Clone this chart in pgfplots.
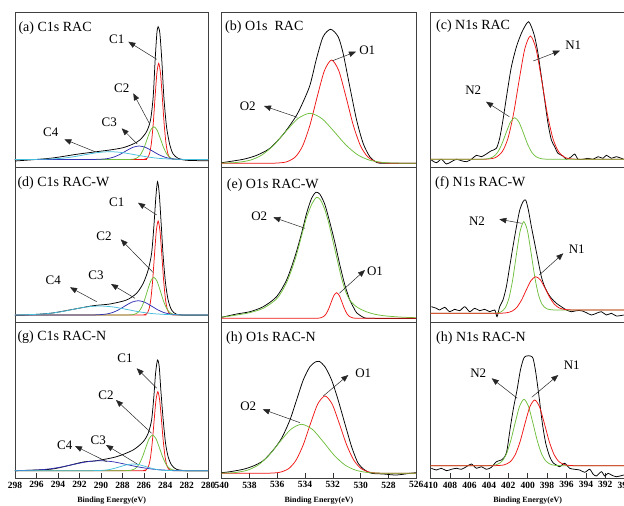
\documentclass[border=0pt]{standalone}
\usepackage{fontspec}
\setmainfont{Liberation Serif}
\usepackage{pgfplots}
\pgfplotsset{compat=1.18}
\usetikzlibrary{arrows.meta}
\definecolor{cred}{RGB}{240,20,20}
\definecolor{cgreen}{RGB}{110,190,60}
\definecolor{cblue}{RGB}{50,50,180}
\definecolor{ccyan}{RGB}{70,190,220}
\pgfplotsset{
  panel/.style={scale only axis, height=155.3pt, ymin=0, ymax=155.3, x dir=reverse,
    enlargelimits=false, xtick=\empty, ytick=\empty,
    axis line style={draw=black!75, line width=0.8pt}, anchor=south west,
    every axis plot/.append style={line width=0.75pt, mark=none, smooth, tension=0.45}},
  c1/.style={panel, width=193.3pt, xmin=280, xmax=298},
  c2/.style={panel, width=194.5pt, xmin=526, xmax=540},
  c3/.style={panel, width=194pt, xmin=390, xmax=410},
  bottomrow/.style={xtick pos=bottom, major tick length=5pt,
    tick style={black!80, line width=0.6pt},
    /pgf/number format/assume math mode=true,
    xticklabel style={font=\bfseries\fontsize{9.5}{11}\selectfont, inner sep=1pt, yshift=-2.5pt},
    xlabel={Binding Energy(eV)},
    xlabel style={font=\bfseries\fontsize{8}{10}\selectfont, at={(axis description cs:0.5,0)}, anchor=center, yshift=-23pt}},
}
\begin{document}
\begin{tikzpicture}
% ---------------- (a) C1s RAC ----------------
\begin{axis}[c1, at={(15pt,338.7pt)}]
\addplot[black] coordinates {(298,6.3) (294.74,9.0) (292.26,13) (290.4,15.6) (289.16,17.3) (287.93,19.6) (287.0,23.3) (286.37,27.3) (285.75,35.6) (285.38,47.3) (285.13,70.6) (284.95,107.3) (284.79,134) (284.67,140.6) (284.51,134) (284.33,107.3) (284.14,70.6) (283.89,40.6) (283.58,22.3) (283.27,13.3) (282.81,9) (282.03,7.0) (280,6.5)};
\addplot[cred] coordinates {(298,7.8) (286.49,7.8) (285.98,7.9) (285.68,9.1) (285.47,13.8) (285.30,24.1) (285.13,43.3) (284.96,69.6) (284.79,93.9) (284.62,104) (284.45,93.9) (284.28,69.6) (284.11,43.3) (283.94,24.1) (283.77,13.8) (283.56,9.1) (283.26,7.9) (282.75,7.8) (280,7.8)};
\addplot[cgreen] coordinates {(298,7.8) (288.37,7.8) (287.47,7.83) (286.945,8.2) (286.57,9.85) (286.27,13.3) (285.97,19.9) (285.67,28.9) (285.37,37.2) (285.07,40.6) (284.77,37.2) (284.47,28.9) (284.17,19.9) (283.87,13.3) (283.57,9.85) (283.195,8.2) (282.67,7.83) (281.77,7.8) (280,7.8)};
\addplot[cblue] coordinates {(298,7.8) (293.04,7.8) (291.24,7.8) (290.19,8.0) (289.44,8.6) (288.84,10.1) (288.24,12.8) (287.64,16.5) (287.04,19.9) (286.44,21.3) (285.84,19.9) (285.24,16.5) (284.64,12.8) (284.04,10.1) (283.44,8.6) (282.69,8.0) (281.64,7.8) (280,7.8)};
\addplot[ccyan] coordinates {(298,7.8) (296.04,7.9) (294.66,8.3) (293.56,9.1) (292.46,10.7) (291.36,12.8) (290.26,14.8) (289.16,15.6) (288.06,14.8) (286.96,12.8) (285.86,10.7) (284.76,9.1) (283.66,8.3) (282.29,7.9) (280,7.8)};
\end{axis}
% ---------------- (b) O1s RAC ----------------
\begin{axis}[c2, at={(221.7pt,338.7pt)}]
\addplot[black] coordinates {(540,4.6) (538.45,8) (537.48,12) (536.53,19) (535.57,33) (534.7,50) (534.25,62) (533.65,82) (533.17,109) (532.70,130.6) (532.16,138) (531.62,130.6) (531.26,114) (530.78,80.6) (530.29,47.3) (529.82,24) (529.34,10.6) (528.86,5) (528.38,4) (526,4)};
\addplot[cred] coordinates {(540,4) (537.81,4) (536.25,4.1) (535.34,5.4) (534.69,10.5) (534.17,21.5) (533.65,42.1) (533.13,70.3) (532.61,96.5) (532.09,107.3) (531.57,96.5) (531.05,70.3) (530.53,42.1) (530.01,21.5) (529.49,10.5) (528.84,5.4) (527.93,4.1) (526.37,4) (526,4)};
\addplot[cgreen] coordinates {(540.53,4.04) (539.03,4.7) (537.95,7.1) (537.09,12.45) (536.23,22.45) (535.37,36.1) (534.51,48.75) (533.65,54) (532.79,48.75) (531.93,36.1) (531.07,22.45) (530.21,12.45) (529.35,7.1) (528.28,4.7) (526.77,4.04) (526,4)};
\end{axis}
% ---------------- (c) N1s RAC ----------------
\begin{axis}[c3, at={(430.7pt,338.7pt)}]
\addplot[black] coordinates {(409.93,7.3) (409.41,4.6) (408.90,8) (408.38,3.3) (407.87,5.6) (407.35,8) (406.84,6.6) (406.32,5.6) (405.80,8) (405.29,12) (404.77,10.6) (404.26,13.3) (403.74,16.6) (403.23,19) (402.89,29) (402.55,47.3) (402.13,74) (401.68,100.6) (401.16,120.6) (400.65,134) (400.21,142.3) (399.90,145.6) (399.62,140.6) (399.28,130.6) (398.94,114) (398.59,90.6) (398.25,67.3) (397.91,44) (397.56,27.3) (397.22,20.6) (396.88,14) (396.36,11.3) (396.01,8) (395.49,10.6) (395.15,13.3) (394.81,8) (394.30,8) (393.78,9) (393.27,8) (392.75,10.6) (392.24,9) (391.89,12) (391.37,9) (390.86,10.6) (390.10,8)};
\addplot[cred] coordinates {(410,8) (406.10,8) (404.36,8.1) (403.35,9.6) (402.62,15.7) (402.04,28.8) (401.46,53.5) (400.88,87.2) (400.30,118.4) (399.72,131.3) (399.14,118.4) (398.56,87.2) (397.98,53.5) (397.40,28.8) (396.82,15.7) (396.10,9.6) (395.08,8.1) (393.34,8) (390,8)};
\addplot[cgreen] coordinates {(410,8) (406.18,8) (404.86,8.03) (404.09,8.55) (403.54,10.6) (403.10,15.0) (402.66,23.35) (402.22,34.7) (401.78,45.2) (401.34,49.6) (400.90,45.2) (400.46,34.7) (400.02,23.35) (399.58,15.0) (399.14,10.6) (398.59,8.55) (397.82,8.03) (396.50,8) (390,8)};
\end{axis}
% ---------------- (d) C1s RAC-W ----------------
\begin{axis}[c1, at={(15pt,183.3pt)}]
\addplot[black] coordinates {(298,7) (294.74,9.4) (292.58,13.4) (290.72,17) (289.16,18.7) (287.61,22.7) (286.68,29.4) (286.06,39.4) (285.60,52.7) (285.28,69.4) (285.07,96) (284.88,126) (284.73,141) (284.57,129.4) (284.39,99.4) (284.20,66) (283.98,39.4) (283.74,22.7) (283.42,12.7) (282.96,8.4) (282.03,7.4) (280,7.4)};
\addplot[cred] coordinates {(298,7.7) (286.54,7.7) (286.03,7.8) (285.73,8.9) (285.52,13.6) (285.35,23.6) (285.18,42.4) (285.01,68.0) (284.84,91.8) (284.67,101.7) (284.50,91.8) (284.33,68.0) (284.16,42.4) (283.99,23.6) (283.82,13.6) (283.61,8.9) (283.31,7.8) (282.80,7.7) (280,7.7)};
\addplot[cgreen] coordinates {(298,7.7) (288.37,7.7) (287.47,7.73) (286.945,8.2) (286.57,10.1) (286.27,14.1) (285.97,21.6) (285.67,31.9) (285.37,41.4) (285.07,45.4) (284.77,41.4) (284.47,31.9) (284.17,21.6) (283.87,14.1) (283.57,10.1) (283.195,8.2) (282.67,7.73) (281.77,7.7) (280,7.7)};
\addplot[cblue] coordinates {(298,7.7) (293.13,7.7) (291.33,7.7) (290.28,7.9) (289.53,8.6) (288.93,10.1) (288.33,13.0) (287.73,16.9) (287.13,20.5) (286.53,22.0) (285.93,20.5) (285.33,16.9) (284.73,13.0) (284.13,10.1) (283.53,8.6) (282.78,7.9) (281.73,7.7) (280,7.7)};
\addplot[ccyan] coordinates {(298,7.75) (297.6,7.8) (296.1,8.3) (294.9,9.2) (293.7,11.0) (292.5,13.5) (291.3,15.8) (290.1,16.7) (288.9,15.8) (287.7,13.5) (286.5,11.0) (285.3,9.2) (284.1,8.3) (282.6,7.8) (280,7.7)};
\end{axis}
% ---------------- (e) O1s RAC-W ----------------
\begin{axis}[c2, at={(221.7pt,183.3pt)}]
\addplot[black] coordinates {(540,5.4) (538.92,8.7) (537.97,11) (537.01,16) (536.05,26) (535.33,42.7) (534.73,66) (534.25,89.4) (533.89,109.4) (533.53,124.4) (533.22,130.4) (532.93,128.4) (532.57,118) (532.21,100) (531.85,80) (531.5,58) (531.14,38) (530.78,22.7) (530.5,15) (530.29,10) (529.82,5.5) (529.34,4.4) (526,4.1)};
\addplot[cgreen] coordinates {(540,5.5) (539,7.5) (538,10) (537,14.5) (536,24.5) (535.3,41) (534.7,64) (534.25,87) (533.9,105) (533.5,119) (533.17,125.4) (532.9,123) (532.6,114) (532.3,100) (532.0,82) (531.7,64) (531.4,46) (531.1,32) (530.8,23) (530.4,17) (530.0,13.5) (529.5,10.5) (529.0,8.5) (528.5,7.3) (528,6.5) (527,5.5) (526,5)};
\addplot[cred] coordinates {(540,4.4) (533.82,4.4) (533.25,4.42) (532.92,4.7) (532.68,6.0) (532.49,8.7) (532.30,13.85) (532.11,20.8) (531.92,27.3) (531.73,30.0) (531.54,27.3) (531.35,20.8) (531.16,13.85) (530.97,8.7) (530.78,6.0) (530.54,4.7) (530.21,4.42) (529.64,4.4) (526,4.4)};
\end{axis}
% ---------------- (f) N1s RAC-W ----------------
\begin{axis}[c3, at={(430.7pt,183.3pt)}]
\addplot[black] coordinates {(409.93,16) (409.41,14.4) (409.07,12.7) (408.56,15.4) (408.04,11) (407.53,13.4) (407.01,12) (406.49,16) (405.98,11) (405.46,14.4) (404.95,12) (404.43,13.4) (403.92,11) (403.40,12.7) (403.16,6) (402.89,16) (402.55,22.7) (402.20,36) (401.86,56) (401.52,76) (401.16,96) (400.82,112.7) (400.48,121) (400.21,122.7) (399.93,112.7) (399.62,96) (399.28,79.4) (398.94,62.7) (398.59,46) (398.25,36) (397.91,29.4) (397.56,24.4) (397.04,19.4) (396.53,16) (396.01,12.7) (395.49,11) (394.98,12) (394.46,12) (393.95,10) (393.43,7.7) (392.92,9.4) (392.40,11) (391.89,7.7) (391.37,9.4) (390.86,6.7) (390.10,7.7)};
\addplot[cgreen] coordinates {(410,9.4) (404.59,9.4) (403.45,9.5) (402.785,10.6) (402.31,15.0) (401.93,24.6) (401.55,42.8) (401.17,67.8) (400.79,91.1) (400.41,101) (400.03,92.1) (399.65,69.8) (399.27,45.7) (398.89,27.9) (398.51,18.3) (398.035,13.9) (397.37,12.8) (396.23,12.7) (390,12.7)};
\addplot[cred] coordinates {(410,9.4) (404.46,9.4) (403.02,9.43) (402.18,9.9) (401.58,11.7) (401.10,15.6) (400.62,22.9) (400.14,32.9) (399.66,42.1) (399.18,46) (398.70,42.9) (398.22,34.7) (397.74,25.5) (397.26,18.6) (396.78,14.9) (396.18,13.2) (395.34,12.73) (393.9,12.7) (390,12.7)};
\end{axis}
% ---------------- (g) C1s RAC-N ----------------
\begin{axis}[c1, bottomrow, xtick={280,282,...,298}, at={(15pt,28pt)}]
\addplot[black] coordinates {(298,7.3) (294.74,8.7) (293.19,12) (291.64,16) (290.40,17.3) (288.54,21.3) (287.0,28) (286.06,36.3) (285.60,44.7) (285.28,58) (285.07,81.3) (284.91,104.7) (284.73,118) (284.57,111.3) (284.42,88) (284.20,58) (283.98,34.7) (283.74,21.3) (283.42,13) (282.96,8.7) (282.03,7.3) (280,7.3)};
\addplot[cred] coordinates {(298,7.3) (286.57,7.3) (286.06,7.4) (285.76,8.3) (285.55,12.2) (285.38,20.7) (285.21,36.5) (285.04,58.0) (284.87,78.0) (284.70,86.3) (284.53,78.0) (284.36,58.0) (284.19,36.5) (284.02,20.7) (283.85,12.2) (283.64,8.3) (283.34,7.4) (282.83,7.3) (280,7.3)};
\addplot[cgreen] coordinates {(298,7.3) (288.71,7.3) (287.75,7.33) (287.19,7.8) (286.79,9.5) (286.47,13.3) (286.15,20.5) (285.83,30.2) (285.51,39.3) (285.19,43.0) (284.87,39.3) (284.55,30.2) (284.23,20.5) (283.91,13.3) (283.59,9.5) (283.19,7.8) (282.63,7.33) (281.67,7.3) (280,7.3)};
\addplot[cblue] coordinates {(298,7.35) (297.59,7.4) (296.09,7.9) (294.89,9.0) (293.69,11.0) (292.49,13.7) (291.29,16.25) (290.09,17.3) (288.89,16.25) (287.69,13.7) (286.49,11.0) (285.29,9.0) (284.09,7.9) (282.59,7.4) (280,7.3)};
\addplot[ccyan] coordinates {(298,7.3) (293.16,7.3) (291.48,7.3) (290.5,7.4) (289.8,7.7) (289.24,8.4) (288.68,9.8) (288.12,11.6) (287.56,13.3) (287.0,14.0) (286.44,13.3) (285.88,11.6) (285.32,9.8) (284.76,8.4) (284.2,7.7) (283.5,7.4) (282.52,7.3) (280,7.3)};
\end{axis}
% ---------------- (h) O1s RAC-N ----------------
\begin{axis}[c2, bottomrow, xtick={526,528,...,540}, at={(221.7pt,28pt)}]
\addplot[black] coordinates {(540,5.3) (539.40,6.3) (538.45,8.7) (537.73,12) (537.01,17.3) (536.29,28) (535.69,39.7) (535.09,58) (534.61,78) (534.13,98) (533.65,111.3) (533.22,116.3) (532.98,116.7) (532.57,111.3) (532.09,98) (531.62,78) (531.14,54.7) (530.65,31.3) (530.18,14.7) (529.70,8) (529.22,4.7) (528.38,4) (527.42,3) (526.46,4.7) (526,5.3)};
\addplot[cred] coordinates {(540,4.7) (538.29,4.7) (536.73,4.76) (535.82,5.7) (535.17,9.5) (534.65,17.8) (534.13,33.2) (533.61,54.3) (533.09,73.9) (532.57,82.0) (532.05,73.9) (531.53,54.3) (531.01,33.2) (530.49,17.8) (529.97,9.5) (529.32,5.7) (528.41,4.76) (526.85,4.7) (526,4.7)};
\addplot[cgreen] coordinates {(540.49,4.74) (539.125,5.3) (538.15,7.8) (537.37,13.0) (536.59,22.8) (535.81,36.2) (535.03,48.6) (534.25,53.7) (533.47,48.6) (532.69,36.2) (531.91,22.8) (531.13,13.0) (530.35,7.8) (529.375,5.3) (528.01,4.74) (526,4.7)};
\end{axis}
% ---------------- (h) N1s RAC-N ----------------
\begin{axis}[c3, bottomrow, xtick={390,392,...,410}, at={(430.7pt,28pt)}]
\addplot[black] coordinates {(409.93,9.7) (409.41,8) (408.90,9.7) (408.38,7.3) (407.87,8.7) (407.35,9.7) (406.84,8.7) (406.32,11.3) (405.80,14) (405.29,9.7) (404.77,11.3) (404.26,8.7) (403.74,10.7) (403.23,16.3) (402.71,18) (402.37,21.3) (402.13,28) (401.78,51.3) (401.44,71.3) (401.10,88) (400.75,108) (400.41,119.7) (400.13,122) (399.72,122) (399.45,119.7) (399.18,106.3) (398.83,81.3) (398.49,54.7) (398.14,34.7) (397.73,21.3) (397.39,15.3) (397.04,13) (396.70,11.3) (396.19,14.7) (395.67,9.7) (395.15,8.7) (394.64,8) (394.12,5.7) (393.61,8.7) (393.27,4) (392.92,2) (392.40,6.3) (392.06,2) (391.72,4.7) (391.37,3) (390.86,1.3) (390.10,3)};
\addplot[cgreen] coordinates {(410,12.3) (405.44,12.3) (404.06,12.35) (403.255,13.2) (402.68,16.45) (402.22,23.5) (401.76,36.8) (401.30,54.9) (400.84,71.7) (400.38,78.7) (399.92,71.7) (399.46,54.9) (399.00,36.8) (398.54,23.5) (398.08,16.45) (397.505,13.2) (396.70,12.35) (395.32,12.3) (390,12.3)};
\addplot[cred] coordinates {(410,12.3) (404.78,12.3) (403.28,12.35) (402.405,13.2) (401.78,16.4) (401.28,23.4) (400.78,36.5) (400.28,54.5) (399.78,71.1) (399.28,78.0) (398.78,71.1) (398.28,54.5) (397.78,36.5) (397.28,23.4) (396.78,16.4) (396.155,13.2) (395.28,12.35) (393.78,12.3) (390,12.3)};
\end{axis}
% ---------------- annotations (pixel frame) ----------------
\begin{scope}[yshift=506pt, x=1pt, y=-1pt,
  lab/.style={font=\fontsize{13}{15}\selectfont, inner sep=0pt},
  ttl/.style={font=\fontsize{14}{16}\selectfont, inner sep=0pt, anchor=west},
  arr/.style={draw=black!85, line width=0.5pt, -{Triangle[length=7pt,width=5.5pt]}}]
% (a)
\node[ttl] at (18.3,28) {(a) C1s RAC};
\node[lab] at (116.7,39.3) {C1}; \draw[arr] (156.7,59.3) -- (128.3,41.7);
\node[lab] at (121.7,88.3) {C2}; \draw[arr] (149.3,123.3) -- (133.3,93.3);
\node[lab] at (109.3,122.7) {C3}; \draw[arr] (137.3,144) -- (121.7,128.3);
\node[lab] at (50.7,132.3) {C4}; \draw[arr] (95,151.7) -- (64.3,139.3);
% (b)
\node[ttl] at (225,27) {(b) O1s\ \ RAC};
\node[lab] at (367.3,50) {O1}; \draw[arr] (332.7,60.7) -- (356,51.7);
\node[lab] at (247.7,106) {O2}; \draw[arr] (297.3,117.3) -- (264,106);
% (c)
\node[ttl] at (436,26) {(c) N1s RAC};
\node[lab] at (573.3,45) {N1}; \draw[arr] (533.3,61) -- (560,50.7);
\node[lab] at (473.3,90) {N2}; \draw[arr] (509.3,116.7) -- (486,101.7);
% (d)
\node[ttl] at (17.3,182.7) {(d) C1s RAC-W};
\node[lab] at (116.7,202.7) {C1}; \draw[arr] (156.7,215) -- (138,202.7);
\node[lab] at (104,236) {C2}; \draw[arr] (153.3,272.7) -- (120.7,239.3);
\node[lab] at (96,275) {C3}; \draw[arr] (135,298.3) -- (111,284);
\node[lab] at (53.3,280) {C4}; \draw[arr] (96.7,301.7) -- (70,287.3);
% (e)
\node[ttl] at (226.7,185) {(e) O1s RAC-W};
\node[lab] at (259.3,216.7) {O2}; \draw[arr] (305,228.3) -- (273.3,217.3);
\node[lab] at (375,271) {O1}; \draw[arr] (339.3,293.3) -- (365,270);
% (f)
\node[ttl] at (435,182.7) {(f) N1s RAC-W};
\node[lab] at (477,221) {N2}; \draw[arr] (521.7,223.3) -- (499.3,219.3);
\node[lab] at (576.7,249.3) {N1}; \draw[arr] (539.3,275) -- (563.3,253.3);
% (g)
\node[ttl] at (17.3,337.3) {(g) C1s RAC-N};
\node[lab] at (125,358.3) {C1}; \draw[arr] (156.7,388.3) -- (136.7,368.3);
\node[lab] at (106,395) {C2}; \draw[arr] (151.7,433.3) -- (116,400);
\node[lab] at (64.7,445.3) {C4}; \draw[arr] (106.7,461.7) -- (75,446);
\node[lab] at (98.3,440.3) {C3}; \draw[arr] (137.3,464) -- (106,445);
% (h)
\node[ttl] at (226,338.3) {(h) O1s RAC-N};
\node[lab] at (363.3,373.3) {O1}; \draw[arr] (323.3,396) -- (348.3,375);
\node[lab] at (248.3,406) {O2}; \draw[arr] (300,422.7) -- (262.7,409.3);
% (h) N1s
\node[ttl] at (436,338.3) {(h) N1s RAC-N};
\node[lab] at (478.3,372.7) {N2}; \draw[arr] (517.3,398.3) -- (491.7,378.3);
\node[lab] at (571.7,365) {N1}; \draw[arr] (531.7,397.3) -- (558.3,375);
\end{scope}
\pgfresetboundingbox
\path[use as bounding box] (0,0) rectangle (624pt,506pt);
\end{tikzpicture}
\end{document}
